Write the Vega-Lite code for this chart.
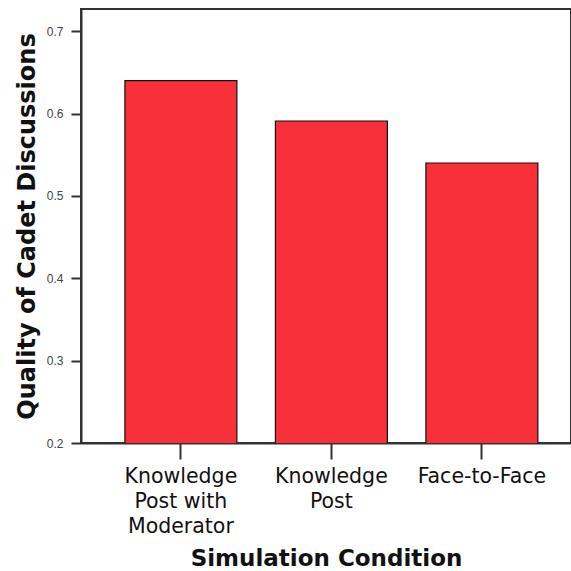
{
  "$schema": "https://vega.github.io/schema/vega-lite/v6.json",
  "autosize": "none",
  "width": 490,
  "height": 434,
  "padding": {"left": 81, "top": 9, "right": 0, "bottom": 128},
  "background": "white",
  "config": {
    "view": {"stroke": "#333", "strokeWidth": 2},
    "axis": {"grid": false, "domainColor": "#333", "tickColor": "#333", "domainWidth": 2, "tickWidth": 2}
  },
  "data": {
    "values": [
      {"condition": "Knowledge Post with Moderator", "quality": 0.64},
      {"condition": "Knowledge Post", "quality": 0.591},
      {"condition": "Face-to-Face", "quality": 0.54}
    ]
  },
  "mark": {"type": "bar", "color": "#f8303a", "stroke": "#111", "strokeWidth": 1.2, "clip": true},
  "encoding": {
    "x": {
      "field": "condition",
      "type": "nominal",
      "sort": null,
      "scale": {"paddingInner": 0.256, "paddingOuter": 0.256, "align": 0.57},
      "axis": {
        "title": "Simulation Condition",
        "titleFont": "DejaVu Sans",
        "titleFontSize": 23,
        "titleFontWeight": "bold",
        "titleColor": "#111",
        "titlePadding": 11,
        "labelAngle": 0,
        "labelFont": "DejaVu Sans",
        "labelFontSize": 20.5,
        "labelColor": "#111",
        "labelLineHeight": 25,
        "labelPadding": 7,
        "tickSize": 16,
        "labelExpr": "datum.value == 'Knowledge Post with Moderator' ? ['Knowledge', 'Post with', 'Moderator'] : datum.value == 'Knowledge Post' ? ['Knowledge', 'Post'] : datum.value"
      }
    },
    "y": {
      "field": "quality",
      "type": "quantitative",
      "scale": {"domain": [0.2, 0.727], "nice": false, "zero": false},
      "axis": {
        "title": "Quality of Cadet Discussions",
        "titleFont": "DejaVu Sans",
        "titleFontSize": 24,
        "titleFontWeight": "bold",
        "titleColor": "#111",
        "titlePadding": 7,
        "values": [0.2, 0.3, 0.4, 0.5, 0.6, 0.7],
        "format": ".1f",
        "labelFont": "Liberation Sans",
        "labelFontSize": 12,
        "labelColor": "#444",
        "labelPadding": 8,
        "tickSize": 10
      }
    }
  }
}
